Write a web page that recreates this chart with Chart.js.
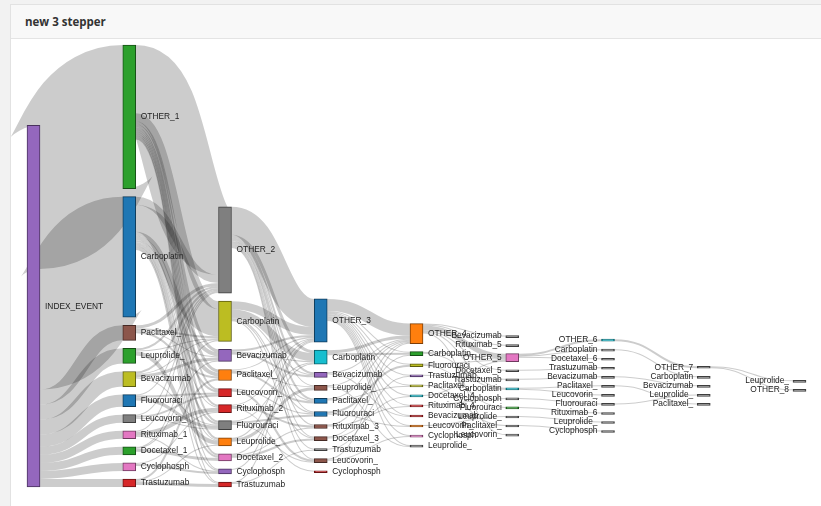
<!DOCTYPE html>
<html>
<head>
<meta charset="utf-8">
<title>new 3 stepper</title>
<script src="https://cdn.jsdelivr.net/npm/chart.js@4.4.1/dist/chart.umd.min.js"></script>
<style>
  html, body { margin: 0; padding: 0; background: #f2f2f2; }
  body { width: 821px; height: 506px; overflow: hidden; position: relative; }
  .card { position: absolute; left: 10px; top: 4px; width: 830px; height: 520px; background: #fff; border: 1px solid #e2e2e2; }
  .card-header { height: 33px; background: #f8f8f8; border-bottom: 1px solid #e4e4e4; }
  .card-header h3 { margin: 0; padding-left: 14px; font: 700 11.5px 'Open Sans', sans-serif; line-height: 33px; color: #333; }
  .chart-box { position: absolute; left: 0; top: 34px; width: 810px; height: 467px; }
</style>
</head>
<body>
<div class="card">
  <div class="card-header"><h3>new 3 stepper</h3></div>
  <div class="chart-box"><canvas id="stepper-chart"></canvas></div>
</div>
<script>
// nodes of each step, top to bottom
const col0Nodes = ['INDEX_EVENT'];
const col1Nodes = ['OTHER_1', 'Carboplatin', 'Paclitaxel_', 'Leuprolide_', 'Bevacizumab', 'Fluorouraci', 'Leucovorin_', 'Rituximab_1', 'Docetaxel_1', 'Cyclophosph', 'Trastuzumab'];
const col2Nodes = ['OTHER_2', 'Carboplatin', 'Bevacizumab', 'Paclitaxel_', 'Leucovorin_', 'Rituximab_2', 'Fluorouraci', 'Leuprolide_', 'Docetaxel_2', 'Cyclophosph', 'Trastuzumab'];
const col3Nodes = ['OTHER_3', 'Carboplatin', 'Bevacizumab', 'Leuprolide_', 'Paclitaxel_', 'Fluorouraci', 'Rituximab_3', 'Docetaxel_3', 'Trastuzumab', 'Leucovorin_', 'Cyclophosph'];
const col4Nodes = ['OTHER_4', 'Carboplatin', 'Fluorouraci', 'Trastuzumab', 'Paclitaxel_', 'Docetaxel_4', 'Rituximab_4', 'Bevacizumab', 'Leucovorin_', 'Cyclophosph', 'Leuprolide_'];
const col5Nodes = ['Bevacizumab', 'Rituximab_5', 'OTHER_5', 'Docetaxel_5', 'Trastuzumab', 'Carboplatin', 'Cyclophosph', 'Fluorouraci', 'Leuprolide_', 'Paclitaxel_', 'Leucovorin_'];
const col6Nodes = ['OTHER_6', 'Carboplatin', 'Docetaxel_6', 'Trastuzumab', 'Bevacizumab', 'Paclitaxel_', 'Leucovorin_', 'Fluorouraci', 'Rituximab_6', 'Leuprolide_', 'Cyclophosph'];
const col7Nodes = ['OTHER_7', 'Carboplatin', 'Bevacizumab', 'Leuprolide_', 'Paclitaxel_'];
const col8Nodes = ['Leuprolide_', 'OTHER_8'];

// flows between consecutive steps: [from, to, patients]
const flows01 = [
  ['INDEX_EVENT', 'OTHER_1', 143], ['INDEX_EVENT', 'Carboplatin', 120], ['INDEX_EVENT', 'Paclitaxel_', 15],
  ['INDEX_EVENT', 'Leuprolide_', 15], ['INDEX_EVENT', 'Bevacizumab', 15], ['INDEX_EVENT', 'Fluorouraci', 12],
  ['INDEX_EVENT', 'Leucovorin_', 8], ['INDEX_EVENT', 'Rituximab_1', 8], ['INDEX_EVENT', 'Docetaxel_1', 8],
  ['INDEX_EVENT', 'Cyclophosph', 8], ['INDEX_EVENT', 'Trastuzumab', 8]
];
const flows12 = [
  ['OTHER_1', 'OTHER_2', 68], ['OTHER_1', 'Carboplatin', 8], ['OTHER_1', 'Bevacizumab', 3], ['OTHER_1', 'Paclitaxel_', 3],
  ['OTHER_1', 'Leucovorin_', 2], ['OTHER_1', 'Rituximab_2', 2], ['OTHER_1', 'Fluorouraci', 2], ['OTHER_1', 'Leuprolide_', 2],
  ['OTHER_1', 'Docetaxel_2', 2], ['OTHER_1', 'Cyclophosph', 1], ['OTHER_1', 'Trastuzumab', 1],
  ['Carboplatin', 'OTHER_2', 8], ['Carboplatin', 'Carboplatin', 27], ['Carboplatin', 'Bevacizumab', 4], ['Carboplatin', 'Paclitaxel_', 4],
  ['Carboplatin', 'Leucovorin_', 2], ['Carboplatin', 'Rituximab_2', 1], ['Carboplatin', 'Fluorouraci', 2], ['Carboplatin', 'Leuprolide_', 1],
  ['Carboplatin', 'Docetaxel_2', 2], ['Carboplatin', 'Cyclophosph', 1], ['Carboplatin', 'Trastuzumab', 1],
  ['Paclitaxel_', 'OTHER_2', 3], ['Paclitaxel_', 'Carboplatin', 2], ['Paclitaxel_', 'Paclitaxel_', 2], ['Paclitaxel_', 'Bevacizumab', 1],
  ['Leuprolide_', 'OTHER_2', 2], ['Leuprolide_', 'Leuprolide_', 4], ['Leuprolide_', 'Carboplatin', 1],
  ['Bevacizumab', 'OTHER_2', 2], ['Bevacizumab', 'Bevacizumab', 3], ['Bevacizumab', 'Carboplatin', 1], ['Bevacizumab', 'Fluorouraci', 1],
  ['Fluorouraci', 'Fluorouraci', 3], ['Fluorouraci', 'Leucovorin_', 2], ['Fluorouraci', 'OTHER_2', 1],
  ['Leucovorin_', 'Leucovorin_', 2], ['Leucovorin_', 'Fluorouraci', 1], ['Leucovorin_', 'OTHER_2', 1],
  ['Rituximab_1', 'Rituximab_2', 4], ['Rituximab_1', 'OTHER_2', 1], ['Rituximab_1', 'Cyclophosph', 1],
  ['Docetaxel_1', 'Docetaxel_2', 3], ['Docetaxel_1', 'Carboplatin', 1], ['Docetaxel_1', 'Bevacizumab', 1],
  ['Cyclophosph', 'Cyclophosph', 2], ['Cyclophosph', 'Rituximab_2', 1],
  ['Trastuzumab', 'Trastuzumab', 3], ['Trastuzumab', 'Paclitaxel_', 2], ['Trastuzumab', 'Leuprolide_', 1]
];
const flows23 = [
  ['OTHER_2', 'OTHER_3', 28], ['OTHER_2', 'Carboplatin', 3], ['OTHER_2', 'Bevacizumab', 2], ['OTHER_2', 'Leuprolide_', 1],
  ['OTHER_2', 'Paclitaxel_', 2], ['OTHER_2', 'Fluorouraci', 1], ['OTHER_2', 'Rituximab_3', 1], ['OTHER_2', 'Docetaxel_3', 1],
  ['OTHER_2', 'Trastuzumab', 1], ['OTHER_2', 'Leucovorin_', 1],
  ['Carboplatin', 'OTHER_3', 8], ['Carboplatin', 'Carboplatin', 8], ['Carboplatin', 'Bevacizumab', 1], ['Carboplatin', 'Paclitaxel_', 1],
  ['Carboplatin', 'Fluorouraci', 1], ['Carboplatin', 'Docetaxel_3', 1],
  ['Bevacizumab', 'Bevacizumab', 2], ['Bevacizumab', 'OTHER_3', 2], ['Bevacizumab', 'Carboplatin', 1],
  ['Paclitaxel_', 'Paclitaxel_', 2], ['Paclitaxel_', 'OTHER_3', 1], ['Paclitaxel_', 'Leuprolide_', 1],
  ['Leucovorin_', 'Leucovorin_', 2], ['Leucovorin_', 'Fluorouraci', 1],
  ['Rituximab_2', 'Rituximab_3', 2], ['Rituximab_2', 'OTHER_3', 1], ['Rituximab_2', 'Cyclophosph', 1],
  ['Fluorouraci', 'Fluorouraci', 2], ['Fluorouraci', 'Leucovorin_', 1], ['Fluorouraci', 'Carboplatin', 1],
  ['Leuprolide_', 'Leuprolide_', 3], ['Leuprolide_', 'OTHER_3', 1],
  ['Docetaxel_2', 'Docetaxel_3', 2], ['Docetaxel_2', 'Carboplatin', 1], ['Docetaxel_2', 'Rituximab_3', 1],
  ['Cyclophosph', 'OTHER_3', 1],
  ['Trastuzumab', 'Trastuzumab', 1], ['Trastuzumab', 'OTHER_3', 1]
];
const flows34 = [
  ['OTHER_3', 'OTHER_4', 12], ['OTHER_3', 'Carboplatin', 1], ['OTHER_3', 'Fluorouraci', 1], ['OTHER_3', 'Trastuzumab', 1],
  ['OTHER_3', 'Paclitaxel_', 1], ['OTHER_3', 'Docetaxel_4', 1], ['OTHER_3', 'Rituximab_4', 1], ['OTHER_3', 'Bevacizumab', 1],
  ['OTHER_3', 'Leucovorin_', 1], ['OTHER_3', 'Cyclophosph', 1], ['OTHER_3', 'Leuprolide_', 1],
  ['Carboplatin', 'OTHER_4', 3], ['Carboplatin', 'Carboplatin', 2],
  ['Bevacizumab', 'OTHER_4', 1], ['Bevacizumab', 'Bevacizumab', 1],
  ['Leuprolide_', 'Leuprolide_', 1], ['Leuprolide_', 'OTHER_4', 1],
  ['Paclitaxel_', 'Paclitaxel_', 1], ['Paclitaxel_', 'OTHER_4', 1],
  ['Fluorouraci', 'Fluorouraci', 2], ['Fluorouraci', 'Leucovorin_', 1],
  ['Rituximab_3', 'Rituximab_4', 1], ['Rituximab_3', 'OTHER_4', 1],
  ['Docetaxel_3', 'Docetaxel_4', 1], ['Docetaxel_3', 'Carboplatin', 1],
  ['Trastuzumab', 'Trastuzumab', 1],
  ['Leucovorin_', 'OTHER_4', 1], ['Leucovorin_', 'Cyclophosph', 1]
];
const flows45 = [
  ['OTHER_4', 'OTHER_5', 5], ['OTHER_4', 'Bevacizumab', 1], ['OTHER_4', 'Rituximab_5', 1], ['OTHER_4', 'Docetaxel_5', 1],
  ['OTHER_4', 'Carboplatin', 1], ['OTHER_4', 'Leucovorin_', 1],
  ['Carboplatin', 'OTHER_5', 1], ['Carboplatin', 'Carboplatin', 1],
  ['Fluorouraci', 'Fluorouraci', 1], ['Fluorouraci', 'OTHER_5', 1],
  ['Trastuzumab', 'Trastuzumab', 1], ['Paclitaxel_', 'Paclitaxel_', 1], ['Docetaxel_4', 'OTHER_5', 1],
  ['Rituximab_4', 'Cyclophosph', 1], ['Leucovorin_', 'Leuprolide_', 1]
];
const flows56 = [
  ['OTHER_5', 'OTHER_6', 2], ['OTHER_5', 'Carboplatin', 1], ['OTHER_5', 'Docetaxel_6', 1],
  ['Docetaxel_5', 'Trastuzumab', 1], ['Trastuzumab', 'Bevacizumab', 1],
  ['Carboplatin', 'Paclitaxel_', 1], ['Carboplatin', 'Leucovorin_', 1],
  ['Cyclophosph', 'Fluorouraci', 1], ['Fluorouraci', 'Rituximab_6', 1],
  ['Leuprolide_', 'Leuprolide_', 1], ['Paclitaxel_', 'Cyclophosph', 1]
];
const flows67 = [
  ['OTHER_6', 'OTHER_7', 2], ['Carboplatin', 'Carboplatin', 1], ['Bevacizumab', 'Bevacizumab', 1],
  ['Fluorouraci', 'Leuprolide_', 1], ['Paclitaxel_', 'Paclitaxel_', 1]
];
const flows78 = [
  ['OTHER_7', 'Leuprolide_', 1], ['OTHER_7', 'OTHER_8', 1]
];

const columnNodes = [col0Nodes, col1Nodes, col2Nodes, col3Nodes, col4Nodes, col5Nodes, col6Nodes, col7Nodes, col8Nodes];
const stepFlows = [flows01, flows12, flows23, flows34, flows45, flows56, flows67, flows78];

// node colours (style), same order as the node lists
const GREY = '#7f7f7f';
const columnColours = [
  ['#9467bd'],
  ['#2ca02c', '#1f77b4', '#8c564b', '#2ca02c', '#bcbd22', '#1f77b4', '#7f7f7f', '#e377c2', '#2ca02c', '#e377c2', '#d62728'],
  ['#7f7f7f', '#bcbd22', '#9467bd', '#ff7f0e', '#d62728', '#d62728', '#7f7f7f', '#ff7f0e', '#e377c2', '#9467bd', '#d62728'],
  ['#1f77b4', '#17becf', '#9467bd', '#8c564b', '#1f77b4', '#1f77b4', '#8c564b', '#8c564b', '#7f7f7f', '#8c564b', '#d62728'],
  ['#ff7f0e', '#2ca02c', '#bcbd22', '#9467bd', '#bcbd22', '#17becf', '#d62728', '#d62728', '#ff7f0e', '#e377c2', '#7f7f7f'],
  [GREY, GREY, '#e377c2', GREY, GREY, '#17becf', GREY, '#2ca02c', GREY, GREY, GREY],
  ['#17becf', GREY, GREY, GREY, GREY, GREY, GREY, GREY, GREY, GREY, GREY],
  [GREY, GREY, GREY, GREY, GREY],
  [GREY, GREY]
];

const NODE_PAD = 8;        // gap between nodes, in patients
const NODE_WIDTH = 13;     // px
const COLUMN_CENTRE = 0.77; // where each step's stack is centred, as share of the height
const LABEL_FONT = '8.4px "Liberation Sans", Arial, sans-serif';

const sum = arr => arr.reduce((a, l) => a + l.value, 0);

// build the graph
const nodes = [];
const byId = {};
columnNodes.forEach((names, c) => names.forEach((name, i) => {
  const node = { name, col: c, colour: columnColours[c][i], sourceLinks: [], targetLinks: [] };
  nodes.push(node);
  byId[c + '|' + name] = node;
}));
const links = [];
stepFlows.forEach((flows, c) => flows.forEach(([from, to, value]) => {
  const link = { source: byId[c + '|' + from], target: byId[(c + 1) + '|' + to], value };
  link.source.sourceLinks.push(link);
  link.target.targetLinks.push(link);
  links.push(link);
}));
nodes.forEach(n => { n.value = Math.max(sum(n.sourceLinks), sum(n.targetLinks)); });

// stack each step, centred on a common line and kept inside the plot
const stacks = columnNodes.map((names, c) => {
  const colNodes = nodes.filter(n => n.col === c);
  return { colNodes, height: sum(colNodes) + (colNodes.length - 1) * NODE_PAD };
});
const H = Math.max(...stacks.map(s => s.height));
stacks.forEach(({ colNodes, height }) => {
  let y = Math.min(Math.max(COLUMN_CENTRE * H - height / 2, 0), H - height);
  colNodes.forEach(n => { n.y0 = y; n.y1 = y + n.value; y = n.y1 + NODE_PAD; });
});
nodes.forEach(n => {
  n.sourceLinks.sort((a, b) => a.target.y0 - b.target.y0);
  n.targetLinks.sort((a, b) => a.source.y0 - b.source.y0);
  let sy = n.y0;
  n.sourceLinks.forEach(l => { l.sy = sy; sy += l.value; });
  let ty = n.y0;
  n.targetLinks.forEach(l => { l.ty = ty; ty += l.value; });
});

function darker(hex) {
  const v = parseInt(hex.slice(1), 16);
  const k = 0.49;
  return `rgb(${Math.round((v >> 16) * k)}, ${Math.round(((v >> 8) & 255) * k)}, ${Math.round((v & 255) * k)})`;
}

// flows drawn as thick curved strokes under the nodes
const sankeyLinks = {
  id: 'sankeyLinks',
  beforeDatasetsDraw(chart) {
    const { ctx, scales: { x, y } } = chart;
    const half = NODE_WIDTH / 2;
    ctx.save();
    ctx.strokeStyle = 'rgba(0, 0, 0, 0.2)';
    ctx.lineCap = 'butt';
    links.forEach(l => {
      const x0 = x.getPixelForValue(l.source.col) + half;
      const x1 = x.getPixelForValue(l.target.col) - half;
      const y0 = y.getPixelForValue(l.sy + l.value / 2);
      const y1 = y.getPixelForValue(l.ty + l.value / 2);
      const xm = (x0 + x1) / 2;
      ctx.lineWidth = Math.max(1, Math.abs(y.getPixelForValue(l.value) - y.getPixelForValue(0)));
      ctx.beginPath();
      ctx.moveTo(x0, y0);
      ctx.bezierCurveTo(xm, y0, xm, y1, x1, y1);
      ctx.stroke();
    });
    ctx.restore();
  }
};

const nodeLabels = {
  id: 'nodeLabels',
  afterDatasetsDraw(chart) {
    const { ctx, scales: { x, y } } = chart;
    const half = NODE_WIDTH / 2;
    ctx.save();
    ctx.font = LABEL_FONT;
    ctx.fillStyle = '#222';
    ctx.textBaseline = 'middle';
    nodes.forEach(n => {
      const xc = x.getPixelForValue(n.col);
      const yc = y.getPixelForValue((n.y0 + n.y1) / 2);
      if (xc - half < chart.width / 2) {
        ctx.textAlign = 'left';
        ctx.fillText(n.name, xc + half + 5, yc);
      } else {
        ctx.textAlign = 'right';
        ctx.fillText(n.name, xc - half - 4, yc);
      }
    });
    ctx.restore();
  }
};

new Chart(document.getElementById('stepper-chart').getContext('2d'), {
  type: 'bar',
  data: {
    datasets: [{
      data: nodes.map(n => ({ x: n.col, y: [n.y0, n.y1] })),
      backgroundColor: nodes.map(n => n.colour),
      borderColor: nodes.map(n => darker(n.colour)),
      borderWidth: 1,
      borderSkipped: false,
      barThickness: NODE_WIDTH,
      minBarLength: 2,
      clip: false
    }]
  },
  options: {
    animation: false,
    responsive: true,
    maintainAspectRatio: false,
    layout: { padding: { left: 22.5, right: 21.5, top: 6, bottom: 19 } },
    scales: {
      x: { type: 'linear', offset: false, min: 0, max: columnNodes.length - 1, display: false },
      y: { type: 'linear', min: 0, max: H, reverse: true, display: false }
    },
    plugins: { legend: { display: false }, tooltip: { enabled: false } }
  },
  plugins: [sankeyLinks, nodeLabels]
});
</script>
</body>
</html>
